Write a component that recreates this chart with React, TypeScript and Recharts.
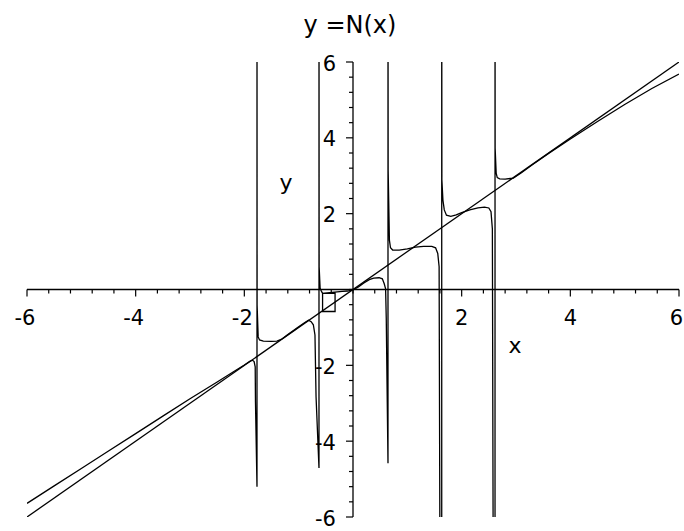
import React from 'react';
import { LineChart, Line, XAxis, YAxis, ReferenceLine } from 'recharts';

const W = 684;
const H = 531;
const M = { top: 62, right: 5, bottom: 13, left: 26 };
const AXIS_THICK = 1;
const X0 = M.left + AXIS_THICK + (W - M.left - AXIS_THICK - M.right) / 2;
const Y0 = M.top + (H - M.top - M.bottom - AXIS_THICK) / 2;

const axisDomain: [number, number] = [-6, 6];
const minorStep = 0.4;
const xMajorValues = [-6, -4, -2, 2, 4, 6];
const xMajorLabels = ['-6', '-4', '-2', '2', '4', '6'];
const yMajorValues = [-6, -4, -2, 2, 4, 6];
const yMajorLabels = ['-6', '-4', '-2', '2', '4', '6'];

const titleText = 'y =N(x)';
const xLabelText = 'x';
const yLabelText = 'y';

// reference line y = x
const identityXs = [-6, 6];
const identityYs = [-6, 6];

// N(x), branch by branch (x, y)
const branch0: [number, number][] = [
  [-6, -5.64], [-5.5, -5.18], [-5, -4.72], [-4.5, -4.26], [-4, -3.8], [-3.5, -3.34],
  [-3, -2.88], [-2.5, -2.44], [-2.2, -2.17], [-2, -1.99], [-1.9, -1.895], [-1.85, -1.865],
  [-1.82, -1.9], [-1.8, -2.04], [-1.795, -2.97], [-1.767, -5.2],
];
const branch1: [number, number][] = [
  [-1.767, 9], [-1.765, -0.41], [-1.745, -1.25], [-1.72, -1.33], [-1.65, -1.36], [-1.5, -1.37],
  [-1.4, -1.36], [-1.3, -1.3], [-1.2, -1.19], [-1, -0.985], [-0.9, -0.885], [-0.82, -0.81],
  [-0.77, -0.85], [-0.73, -0.93], [-0.7, -1.2], [-0.68, -2.83], [-0.626, -4.71],
];
const branch2: [number, number][] = [
  [-0.626, 9], [-0.623, 0.6], [-0.605, 0.03], [-0.58, -0.05], [-0.56, -0.1], [-0.33, -0.1],
  [-0.33, -0.58], [-0.56, -0.58], [-0.56, -0.1], [-0.2, -0.05], [-0.1, -0.04], [0, -0.01],
  [0.1, 0.07], [0.2, 0.17], [0.3, 0.26], [0.38, 0.3], [0.48, 0.31], [0.54, 0.28],
  [0.575, 0.15], [0.6, 0.02], [0.612, -0.75], [0.644, -4.58],
];
const branch3: [number, number][] = [
  [0.644, 9], [0.647, 3.15], [0.67, 1.3], [0.69, 1.1], [0.73, 1.04], [0.85, 1.04], [1, 1.07],
  [1.15, 1.12], [1.3, 1.14], [1.45, 1.14], [1.52, 1.1], [1.56, 0.95], [1.585, 0.6],
  [1.6, -7], [1.633, -7],
];
const branch4: [number, number][] = [
  [1.633, 9], [1.636, 2.89], [1.655, 2.36], [1.68, 2.1], [1.72, 1.96], [1.8, 1.93], [1.9, 1.97],
  [2, 2.03], [2.15, 2.1], [2.3, 2.15], [2.42, 2.17], [2.5, 2.15], [2.54, 2.05], [2.565, 1.6],
  [2.58, -7], [2.614, -7],
];
const branch5: [number, number][] = [
  [2.614, 9], [2.616, 3.73], [2.635, 3.07], [2.655, 2.95], [2.7, 2.92], [2.8, 2.91],
  [2.95, 2.94], [3.1, 3.08], [3.3, 3.29], [3.6, 3.59], [4, 3.97], [4.5, 4.43], [5, 4.88],
  [5.5, 5.3], [6, 5.68],
];

const nData = [...branch0, ...branch1, ...branch2, ...branch3, ...branch4, ...branch5].map(
  ([x, y]) => ({ x, y })
);
const identityData = identityXs.map((x, i) => ({ x, y: identityYs[i] }));

const tickCount = Math.round((axisDomain[1] - axisDomain[0]) / minorStep) + 1;
const allTicks = Array.from({ length: tickCount }, (_, i) =>
  Math.round((axisDomain[0] + i * minorStep) * 10) / 10
);

const FONT = '"DejaVu Sans", "Liberation Sans", sans-serif';

const XTick = (props: any) => {
  const { x, payload } = props;
  const v = payload.value;
  const idx = xMajorValues.indexOf(v);
  const major = idx >= 0;
  const nearRight = x > W - 10;
  return (
    <g>
      <line x1={x} x2={x} y1={Y0} y2={Y0 + (major ? 7 : 4)} stroke="#000" strokeWidth={1.2} />
      {major && (
        <text
          x={nearRight ? W - 1 : x - (v < 0 ? 2 : 0)}
          y={Y0 + 35.5}
          textAnchor={nearRight ? 'end' : 'middle'}
          fontFamily={FONT}
          fontSize={21}
          fill="#000"
        >
          {xMajorLabels[idx]}
        </text>
      )}
    </g>
  );
};

const YTick = (props: any) => {
  const { y, payload } = props;
  const v = payload.value;
  const idx = yMajorValues.indexOf(v);
  const major = idx >= 0;
  return (
    <g>
      <line x1={X0 - (major ? 7 : 4)} x2={X0} y1={y} y2={y} stroke="#000" strokeWidth={1.2} />
      {major && (
        <text x={X0 - 17} y={y + 8.5} textAnchor="end" fontFamily={FONT} fontSize={21} fill="#000">
          {yMajorLabels[idx]}
        </text>
      )}
    </g>
  );
};

export default function App() {
  return (
    <div style={{ position: 'absolute', left: 0, top: 0, width: W, height: H, background: '#fff' }}>
      <LineChart width={W} height={H} margin={M}>
        <XAxis
          type="number"
          dataKey="x"
          domain={axisDomain}
          allowDataOverflow
          ticks={allTicks}
          interval={0}
          height={AXIS_THICK}
          axisLine={false}
          tickLine={false}
          tick={XTick}
        />
        <YAxis
          type="number"
          dataKey="y"
          domain={axisDomain}
          allowDataOverflow
          ticks={allTicks}
          interval={0}
          width={AXIS_THICK}
          axisLine={false}
          tickLine={false}
          tick={YTick}
        />
        <ReferenceLine y={0} stroke="#000" strokeWidth={1.3} />
        <ReferenceLine x={0} stroke="#000" strokeWidth={1.3} />
        <Line
          data={identityData}
          dataKey="y"
          type="linear"
          stroke="#000"
          strokeWidth={1.3}
          dot={false}
          activeDot={false}
          isAnimationActive={false}
        />
        <Line
          data={nData}
          dataKey="y"
          type="linear"
          stroke="#000"
          strokeWidth={1.3}
          dot={false}
          activeDot={false}
          isAnimationActive={false}
        />
        <text x={350} y={33} textAnchor="middle" fontFamily={FONT} fontSize={24} fill="#000">
          {titleText}
        </text>
        <text x={286} y={190} textAnchor="middle" fontFamily={FONT} fontSize={22} fill="#000">
          {yLabelText}
        </text>
        <text x={515} y={353} textAnchor="middle" fontFamily={FONT} fontSize={22} fill="#000">
          {xLabelText}
        </text>
      </LineChart>
    </div>
  );
}
